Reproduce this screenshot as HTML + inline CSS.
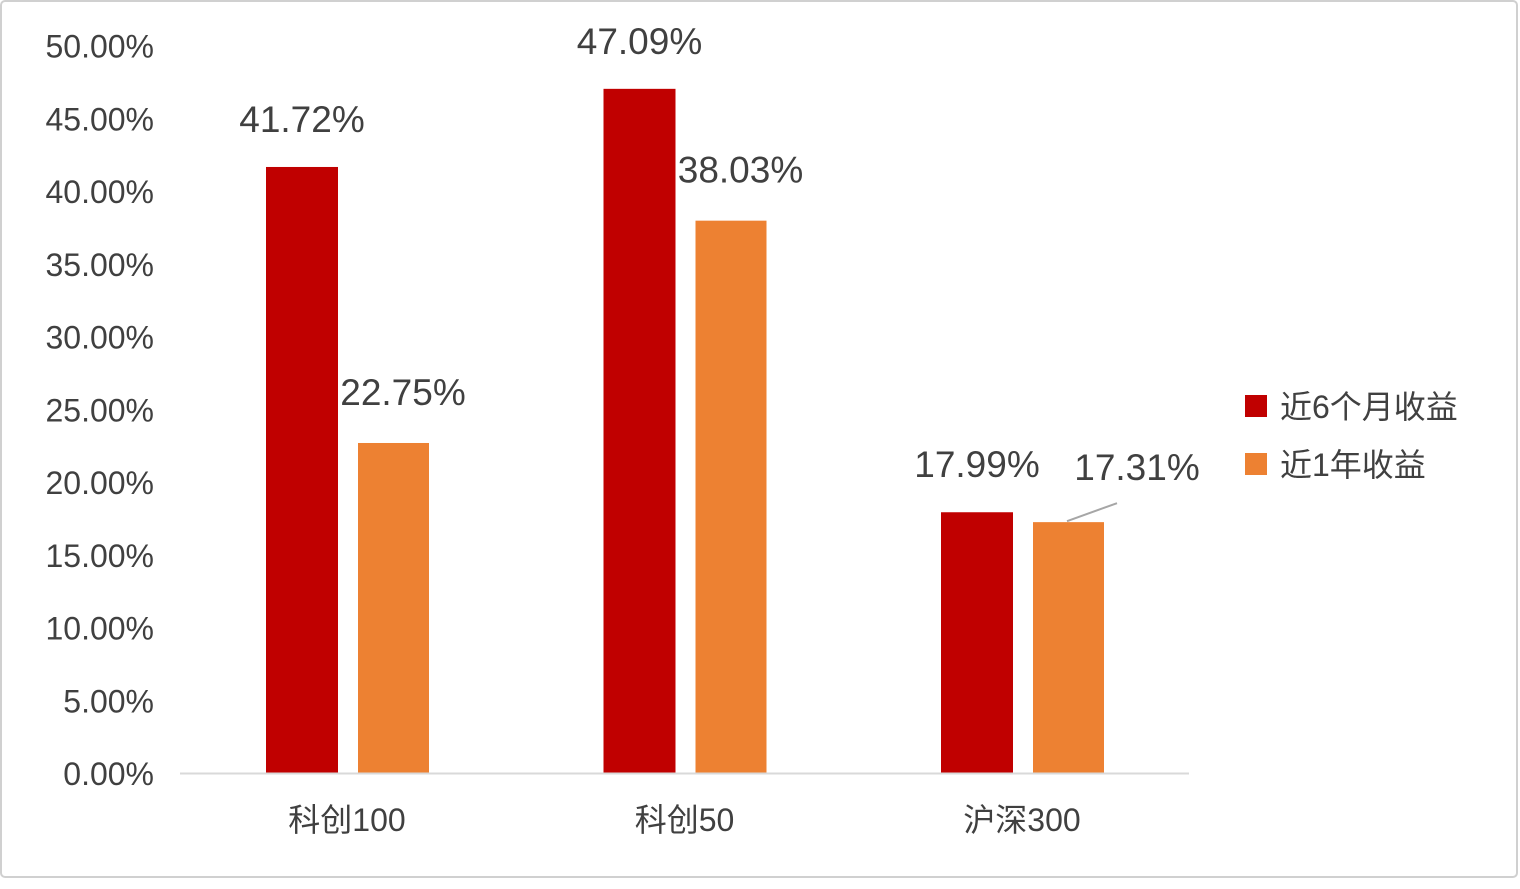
<!DOCTYPE html>
<html><head><meta charset="utf-8"><style>
body{margin:0;background:#fff;}
svg text{font-family:"Liberation Sans","Noto Sans CJK SC",sans-serif;fill:#404040;}
</style></head><body>
<svg width="1520" height="884" viewBox="0 0 1520 884">
<rect x="1" y="1" width="1516" height="876" fill="#fff" stroke="#d0d0d0" stroke-width="2" rx="4"/>
<g id="ticks"></g>
<g id="bars"></g>
<line x1="180" y1="773.5" x2="1189" y2="773.5" stroke="#d9d9d9" stroke-width="2"/>
<rect x="1245" y="395" width="22" height="22" fill="#c00000"/>
<text x="1280" y="418" font-size="32">近6个月收益</text>
<rect x="1245" y="453" width="22" height="22" fill="#ed8132"/>
<text x="1280" y="476" font-size="32">近1年收益</text>
</svg>
<script>
const categories=["科创100","科创50","沪深300"];
const series6m=[41.72,47.09,17.99];
const series1y=[22.75,38.03,17.31];
const tickValues=[0,5,10,15,20,25,30,35,40,45,50];
const NS="http://www.w3.org/2000/svg";
function y(v){return 774-v*14.55;}
function cx(i){return 347+i*337.5;}
function mk(tag,attrs,parent,text){const e=document.createElementNS(NS,tag);for(const k in attrs)e.setAttribute(k,attrs[k]);if(text!==undefined)e.textContent=text;parent.appendChild(e);return e;}
const tg=document.getElementById('ticks');
tickValues.forEach(v=>{
  const t=mk('text',{x:154,y:y(v)+11,'font-size':32,'text-anchor':'end'},tg,v.toFixed(2)+'%');
  
  
});
const bg=document.getElementById('bars');
categories.forEach((c,i)=>{
  const x0=cx(i);
  const r=mk('rect',{x:x0-81,y:y(series6m[i]),width:72,height:y(0)-y(series6m[i]),fill:'#c00000'},bg);
  
  
  const o=mk('rect',{x:x0+11,y:y(series1y[i]),width:71,height:y(0)-y(series1y[i]),fill:'#ed8132'},bg);
  
  
  const l1=mk('text',{x:x0-45,y:y(series6m[i])-35,'font-size':37,'text-anchor':'middle'},bg,series6m[i].toFixed(2)+'%');
  
  
  let lx=x0+46+(i==2?69:10), ly=y(series1y[i])-38;
  if(i==2){ly=y(series1y[i])-42;
    const ln=mk('line',{x1:x0+45,y1:y(series1y[i])-1,x2:x0+95,y2:y(series1y[i])-19,stroke:'#a6a6a6','stroke-width':2},bg);
    
    
  }
  const l2=mk('text',{x:lx,y:ly,'font-size':37,'text-anchor':'middle'},bg,series1y[i].toFixed(2)+'%');
  
  
  const cl=mk('text',{x:x0,y:831,'font-size':32,'text-anchor':'middle'},bg,c);
  
  
});
</script>
</body></html>
